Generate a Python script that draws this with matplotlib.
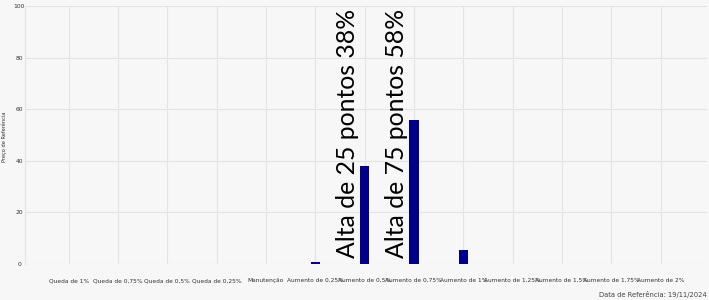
import numpy as np
import matplotlib.pyplot as plt

# Cenários e probabilidades (%)
cenarios = ['Queda de 1%', 'Queda de 0,75%', 'Queda de 0,5%', 'Queda de 0,25%',
            'Manutenção', 'Aumento de 0,25%', 'Aumento de 0,5%', 'Aumento de 0,75%',
            'Aumento de 1%', 'Aumento de 1,25%', 'Aumento de 1,5%', 'Aumento de 1,75%',
            'Aumento de 2%']
valores = [0, 0, 0, 0, 0, 0.6, 38, 56, 5.5, 0, 0, 0, 0]

# Anotações verticais
anot_idx = [6, 7]
anot_txt = ['Alta de 25 pontos 38%', 'Alta de 75 pontos 58%']

fundo = '#f7f7f7'
grade = '#e4e4e4'
fig = plt.figure(figsize=(7.09, 3.0), dpi=100, facecolor=fundo)
ax = fig.add_axes([0.035, 0.12, 0.962, 0.86], facecolor=fundo)

x = np.arange(len(cenarios))
ax.bar(x, valores, width=0.19, color='#00008b', zorder=3)

for i, t in zip(anot_idx, anot_txt):
    ax.text(i - 0.35, 2.5, t, rotation=90, ha='center', va='bottom',
            fontsize=17.8, family='Lato', color='black', zorder=4)

ax.set_xlim(-0.89, 12.94)
ax.set_ylim(0, 100)
ax.set_yticks([0, 20, 40, 60, 80, 100])
ax.set_xticks(x)
ax.set_xticklabels(cenarios, fontsize=4.2, color='#333333', va='baseline')
for lbl in ax.get_yticklabels():
    lbl.set_horizontalalignment('center')
ax.tick_params(axis='y', labelsize=4.3, colors='#333333', length=0, pad=4)
ax.tick_params(axis='x', length=0, pad=13)
ax.grid(True, color=grade, linewidth=0.8, zorder=0)
for s in ax.spines.values():
    s.set_visible(False)
ax.spines['left'].set_visible(True)
ax.spines['left'].set_color(grade)
ax.spines['left'].set_linewidth(0.8)

fig.text(4 / 709, 0.545, 'Preço de Referência', rotation=90, ha='center', va='center',
         fontsize=3.7, color='#333333')
fig.text(0.997, 0.005, 'Data de Referência: 19/11/2024', ha='right', va='bottom',
         fontsize=4.9, color='#444444')

plt.savefig('out.png', dpi=100, facecolor=fundo)
